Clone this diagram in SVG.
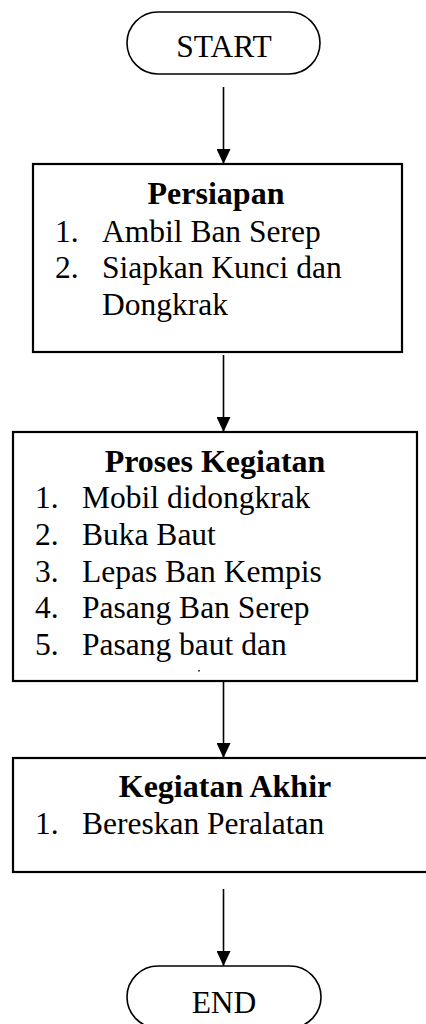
<svg xmlns="http://www.w3.org/2000/svg" width="426" height="1024" viewBox="0 0 426 1024">
  <defs>
    <marker id="arrow" markerWidth="16" markerHeight="14" refX="15" refY="7" orient="auto" markerUnits="userSpaceOnUse">
      <path d="M0,0 L15,7 L0,14 Z" fill="#000"/>
    </marker>
    <style>
      text { font-family: "Liberation Serif", "Times New Roman", serif; fill: #000; }
      .t { font-size: 31.5px; }
      .b { font-size: 32px; font-weight: bold; }
      .term { fill: #fff; stroke: #000; stroke-width: 1.6; }
      .box { fill: #fff; stroke: #000; stroke-width: 2.2; }
      .conn { stroke: #000; stroke-width: 1.6; fill: none; marker-end: url(#arrow); }
    </style>
  </defs>
  <rect width="426" height="1024" fill="#fff"/>

  <g id="connectors">
    <line class="conn" x1="223.5" y1="87" x2="223.5" y2="164"/>
    <line class="conn" x1="223.5" y1="355" x2="223.5" y2="432"/>
    <line class="conn" x1="223.5" y1="681" x2="223.5" y2="758"/>
    <line class="conn" x1="223.5" y1="889" x2="223.5" y2="966"/>
  </g>

  <g id="start">
    <rect class="term" x="127" y="12" width="193" height="62" rx="31" ry="31"/>
    <text class="t" x="224" y="57" text-anchor="middle">START</text>
  </g>

  <g id="persiapan">
    <rect class="box" x="33" y="164" width="369" height="188"/>
    <text class="b" x="216" y="204" text-anchor="middle">Persiapan</text>
    <text class="t" x="55" y="242">1.</text>
    <text class="t" x="102" y="242">Ambil Ban Serep</text>
    <text class="t" x="55" y="278">2.</text>
    <text class="t" x="102" y="278">Siapkan Kunci dan</text>
    <text class="t" x="102" y="315">Dongkrak</text>
  </g>

  <g id="proses">
    <rect class="box" x="13" y="432" width="404" height="249"/>
    <text class="b" x="215" y="472" text-anchor="middle">Proses Kegiatan</text>
    <text class="t" x="35" y="508">1.</text>
    <text class="t" x="82" y="508">Mobil didongkrak</text>
    <text class="t" x="35" y="545">2.</text>
    <text class="t" x="82" y="545">Buka Baut</text>
    <text class="t" x="35" y="582">3.</text>
    <text class="t" x="82" y="582">Lepas Ban Kempis</text>
    <text class="t" x="35" y="618">4.</text>
    <text class="t" x="82" y="618">Pasang Ban Serep</text>
    <text class="t" x="35" y="655">5.</text>
    <text class="t" x="82" y="655">Pasang baut dan</text>
    <rect x="198" y="670" width="2" height="1.5" fill="#444"/>
  </g>

  <g id="akhir">
    <rect class="box" x="13" y="758" width="424" height="114"/>
    <text class="b" x="225" y="797" text-anchor="middle">Kegiatan Akhir</text>
    <text class="t" x="35" y="834">1.</text>
    <text class="t" x="82" y="834">Bereskan Peralatan</text>
  </g>

  <g id="end">
    <rect class="term" x="127" y="966" width="194" height="62" rx="31" ry="31"/>
    <text class="t" x="224" y="1013" text-anchor="middle">END</text>
  </g>
</svg>
